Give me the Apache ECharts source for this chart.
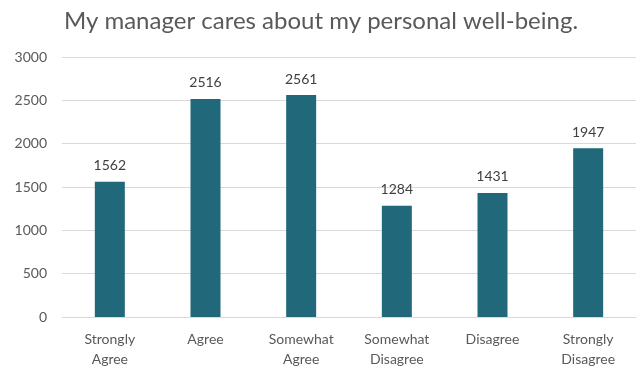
<!DOCTYPE html>
<html>
<head>
<meta charset="utf-8">
<script src="https://cdn.jsdelivr.net/npm/echarts@6/dist/echarts.min.js"></script>
<style>
  html, body { margin: 0; padding: 0; background: #ffffff; }
  #chart { width: 642px; height: 369px; }
</style>
</head>
<body>
<div id="chart"></div>
<script>
// Survey responses for the manager well-being question
const categories = ['Strongly\nAgree', 'Agree', 'Somewhat\nAgree', 'Somewhat\nDisagree', 'Disagree', 'Strongly\nDisagree'];
const responses = [1562, 2516, 2561, 1284, 1431, 1947];
const titleText = 'My manager cares about my personal well-being.';

const fontFamily = 'Lato, "Open Sans", sans-serif';
const chart = echarts.init(document.getElementById('chart'), null, { renderer: 'canvas' });

chart.setOption({
  animation: false,
  backgroundColor: '#ffffff',
  title: {
    text: titleText,
    left: 'center',
    top: 4,
    textStyle: { fontFamily, fontSize: 24, fontWeight: 'normal', color: '#595959' }
  },
  grid: { left: 62, right: 6, top: 57, bottom: 50 },
  xAxis: {
    type: 'category',
    data: categories,
    axisLine: { lineStyle: { color: '#d9d9d9', width: 1 } },
    axisTick: { show: false },
    axisLabel: { fontFamily, fontSize: 14, color: '#595959', lineHeight: 20, margin: 12, interval: 0 }
  },
  yAxis: {
    type: 'value',
    min: 0,
    max: 3000,
    interval: 500,
    axisLine: { show: false },
    axisTick: { show: false },
    axisLabel: { fontFamily, fontSize: 14, color: '#595959', margin: 15, formatter: v => String(v) },
    splitLine: { lineStyle: { color: '#d9d9d9', width: 1 } }
  },
  series: [{
    type: 'bar',
    data: responses,
    barWidth: 30,
    itemStyle: { color: '#21687a' },
    label: {
      show: true,
      position: 'top',
      distance: 9,
      fontFamily,
      fontSize: 14,
      color: '#404040'
    }
  }]
});
</script>
</body>
</html>
